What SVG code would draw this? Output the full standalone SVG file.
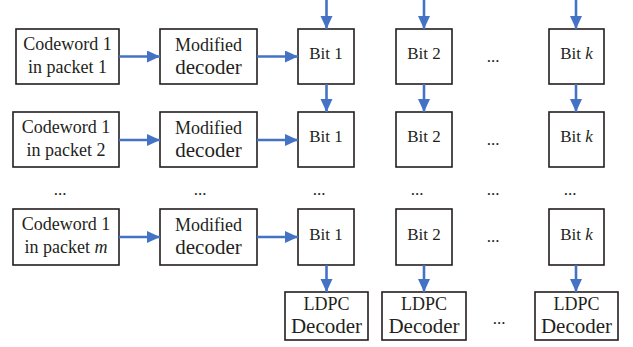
<svg xmlns="http://www.w3.org/2000/svg" width="633" height="347" viewBox="0 0 633 347" font-family="Liberation Serif, DejaVu Serif, serif">
<defs>
<marker id="ah" markerUnits="userSpaceOnUse" markerWidth="14" markerHeight="14" refX="13" refY="6" orient="auto">
<path d="M0,0 L13,6 L0,12 Z" fill="#4472C4"/>
</marker>
</defs>
<style>
.b{fill:#fff;stroke:#231f20;stroke-width:1.6}
.t{font-size:18px;fill:#231f20;text-anchor:middle}
.l{font-size:21px}
.s{font-size:17px}
.c{stroke:#4472C4;stroke-width:2.6;fill:none;marker-end:url(#ah)}
</style>
<rect width="633" height="347" fill="#fff"/>
<g id="cw1"><rect class="b" x="16" y="29" width="103" height="55"/><text class="t" x="67.5" y="50">Codeword 1</text><text class="t" x="67.5" y="73">in packet 1</text></g>
<g id="md1"><rect class="b" x="160" y="29" width="97" height="55"/><text class="t" x="208.5" y="51">Modified</text><text class="t l" x="208.5" y="74">decoder</text></g>
<g id="b11"><rect class="b" x="298" y="29" width="56" height="55"/><text class="t s" x="326" y="59">Bit 1</text></g>
<g id="b12"><rect class="b" x="396" y="29" width="56" height="55"/><text class="t s" x="424" y="59">Bit 2</text></g>
<g id="b1k"><rect class="b" x="549" y="29" width="55" height="55"/><text class="t s" x="576.5" y="59">Bit <tspan font-style="italic">k</tspan></text></g>

<g id="cw2"><rect class="b" x="13" y="112" width="106" height="55"/><text class="t" x="66" y="133">Codeword 1</text><text class="t" x="66" y="156">in packet 2</text></g>
<g id="md2"><rect class="b" x="160" y="112" width="97" height="55"/><text class="t" x="208.5" y="134">Modified</text><text class="t l" x="208.5" y="157">decoder</text></g>
<g id="b21"><rect class="b" x="298" y="112" width="56" height="55"/><text class="t s" x="326" y="142">Bit 1</text></g>
<g id="b22"><rect class="b" x="396" y="112" width="56" height="55"/><text class="t s" x="424" y="142">Bit 2</text></g>
<g id="b2k"><rect class="b" x="549" y="112" width="55" height="55"/><text class="t s" x="576.5" y="142">Bit <tspan font-style="italic">k</tspan></text></g>

<g id="cw3"><rect class="b" x="13" y="209" width="106" height="56"/><text class="t" x="66" y="230">Codeword 1</text><text class="t" x="66" y="253">in packet <tspan font-style="italic">m</tspan></text></g>
<g id="md3"><rect class="b" x="160" y="209" width="97" height="56"/><text class="t" x="208.5" y="231">Modified</text><text class="t l" x="208.5" y="254">decoder</text></g>
<g id="b31"><rect class="b" x="298" y="209" width="56" height="56"/><text class="t s" x="326" y="240">Bit 1</text></g>
<g id="b32"><rect class="b" x="396" y="209" width="56" height="56"/><text class="t s" x="424" y="240">Bit 2</text></g>
<g id="b3k"><rect class="b" x="549" y="209" width="55" height="56"/><text class="t s" x="576.5" y="240">Bit <tspan font-style="italic">k</tspan></text></g>

<g id="ld1"><rect class="b" x="285" y="292" width="83" height="48"/><text class="t" x="326.5" y="310">LDPC</text><text class="t l" x="326.5" y="333">Decoder</text></g>
<g id="ld2"><rect class="b" x="382" y="292" width="84" height="48"/><text class="t" x="424" y="310">LDPC</text><text class="t l" x="424" y="333">Decoder</text></g>
<g id="ldk"><rect class="b" x="535" y="292" width="83" height="48"/><text class="t" x="576.5" y="310">LDPC</text><text class="t l" x="576.5" y="333">Decoder</text></g>

<g id="dots">
<text class="t s" x="493" y="62">...</text>
<text class="t s" x="493" y="145">...</text>
<text class="t s" x="493" y="242">...</text>
<text class="t s" x="499" y="324">...</text>
<text class="t s" x="60" y="195">...</text>
<text class="t s" x="200" y="195">...</text>
<text class="t s" x="319" y="195">...</text>
<text class="t s" x="417" y="195">...</text>
<text class="t s" x="493" y="195">...</text>
<text class="t s" x="570" y="195">...</text>
</g>

<g id="connectors">
<line class="c" x1="119" y1="56.5" x2="160" y2="56.5"/>
<line class="c" x1="257" y1="56.5" x2="298" y2="56.5"/>
<line class="c" x1="119" y1="140" x2="160" y2="140"/>
<line class="c" x1="257" y1="140" x2="298" y2="140"/>
<line class="c" x1="119" y1="237" x2="160" y2="237"/>
<line class="c" x1="257" y1="237" x2="298" y2="237"/>
<line class="c" x1="326.5" y1="0" x2="326.5" y2="29"/>
<line class="c" x1="424" y1="0" x2="424" y2="29"/>
<line class="c" x1="576" y1="0" x2="576" y2="29"/>
<line class="c" x1="326.5" y1="84" x2="326.5" y2="112"/>
<line class="c" x1="424" y1="84" x2="424" y2="112"/>
<line class="c" x1="576" y1="84" x2="576" y2="112"/>
<line class="c" x1="326.5" y1="265" x2="326.5" y2="292"/>
<line class="c" x1="424" y1="265" x2="424" y2="292"/>
<line class="c" x1="576" y1="265" x2="576" y2="292"/>
</g>
</svg>
